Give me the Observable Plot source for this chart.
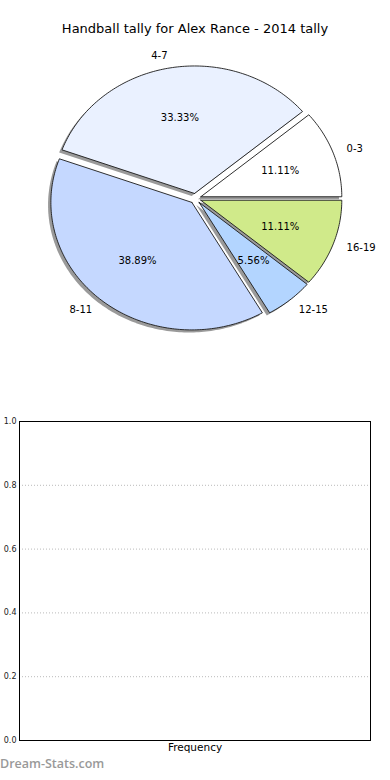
<!DOCTYPE html>
<html>
<head>
<meta charset="utf-8">
<script src="https://cdn.jsdelivr.net/npm/d3@7"></script>
<script src="https://cdn.jsdelivr.net/npm/@observablehq/plot@0.6"></script>
<style>
  body { margin: 0; background: white; font-family: "DejaVu Sans", sans-serif; }
  #wrap { position: relative; width: 390px; height: 780px; overflow: hidden; }
  #title { position: absolute; left: 0; width: 390px; top: 21px; text-align: center; font-size: 13px; color: #000; }
  #pie { position: absolute; left: 0; top: 45px; }
  #bar { position: absolute; left: 0; top: 400px; }
  #wm { position: absolute; left: 0; top: 755px; font-family: "Open Sans", sans-serif; font-weight: 600; font-size: 12.5px; color: #999; }
</style>
</head>
<body>
<div id="wrap">
  <div id="pie"></div>
  <div id="bar"></div>
  <div id="title">Handball tally for Alex Rance - 2014 tally</div>
  <div id="wm">Dream-Stats.com</div>
</div>
<script>
// ---- data ----
const categories = ["0-3", "4-7", "8-11", "12-15", "16-19"];
const counts = [2, 6, 7, 1, 2];
const sliceColors = ["#ffffff", "#eaf1ff", "#c5d8ff", "#b3d5ff", "#d0ea8a"];
const explode = [0.04, 0.04, 0.04, 0.04, 0.04];
const yTicks = [0, 0.2, 0.4, 0.6, 0.8, 1.0];
const barTitle = "Frequency";

// ---- pie geometry (data units, radius 1) ----
const total = d3.sum(counts);
let start = 0;
const slices = counts.map((c, i) => {
  const a0 = start, a1 = start + (c / total) * 360;
  start = a1;
  const mid = (a0 + a1) / 2 * Math.PI / 180;
  const ox = explode[i] * Math.cos(mid), oy = explode[i] * Math.sin(mid);
  const pts = [{key: i, x: ox, y: oy}];
  const n = Math.max(2, Math.ceil(a1 - a0));
  for (let k = 0; k <= n; k++) {
    const t = (a0 + (a1 - a0) * k / n) * Math.PI / 180;
    pts.push({key: i, x: ox + Math.cos(t), y: oy + Math.sin(t)});
  }
  pts.push({key: i, x: ox, y: oy});
  return {
    i, label: categories[i], pct: (100 * c / total).toFixed(2) + "%", pts,
    lx: ox + 1.1 * Math.cos(mid), ly: oy + 1.1 * Math.sin(mid),
    px: ox + 0.6 * Math.cos(mid), py: oy + 0.6 * Math.sin(mid),
    right: Math.cos(mid) >= 0
  };
});
const shadowPts = slices.flatMap(s => s.pts.map(p => ({key: p.key, x: p.x - 0.02, y: p.y - 0.02})));

const cx = 195, cy = 153, rx = 141, ry = 127.5;
const txt = {fontSize: 10, fill: "#000", fontFamily: "DejaVu Sans"};
const pie = Plot.plot({
  width: 390, height: 330,
  margin: 0,
  style: {background: "transparent", overflow: "visible"},
  x: {domain: [-1, 1], range: [cx - rx, cx + rx], axis: null},
  y: {domain: [-1, 1], range: [cy + ry, cy - ry], axis: null},
  marks: [
    Plot.line(shadowPts, {x: "x", y: "y", z: "key", fill: "#9a9a9a", stroke: "none", curve: "linear"}),
    ...slices.map(s => Plot.line(s.pts, {x: "x", y: "y", fill: sliceColors[s.i], stroke: "#1a1a1a", strokeWidth: 0.9, curve: "linear", strokeLinejoin: "miter"})),
    Plot.text(slices.filter(s => s.right), {x: "lx", y: "ly", text: "label", textAnchor: "start", ...txt}),
    Plot.text(slices.filter(s => !s.right), {x: "lx", y: "ly", text: "label", textAnchor: "end", ...txt}),
    Plot.text(slices, {x: "px", y: "py", text: "pct", ...txt})
  ]
});
document.getElementById("pie").appendChild(pie);

const bar = Plot.plot({
  width: 390, height: 380,
  marginTop: 21, marginBottom: 40, marginLeft: 19, marginRight: 20,
  style: {background: "transparent", overflow: "visible", fontFamily: "DejaVu Sans"},
  y: {domain: [0, 1]},
  marks: [
    Plot.ruleY(yTicks, {stroke: "#bbb", strokeWidth: 1, strokeDasharray: "1,2"}),
    Plot.axisY(yTicks, {tickSize: 0, tickPadding: 3, tickFormat: d3.format(".1f"), fontSize: 8, label: null, fill: "#222"}),
    Plot.frame({stroke: "#000", strokeWidth: 1}),
    Plot.text([barTitle], {frameAnchor: "bottom", dy: 10, fontSize: 10.5, fill: "#000"})
  ]
});
document.getElementById("bar").appendChild(bar);
</script>
</body>
</html>
